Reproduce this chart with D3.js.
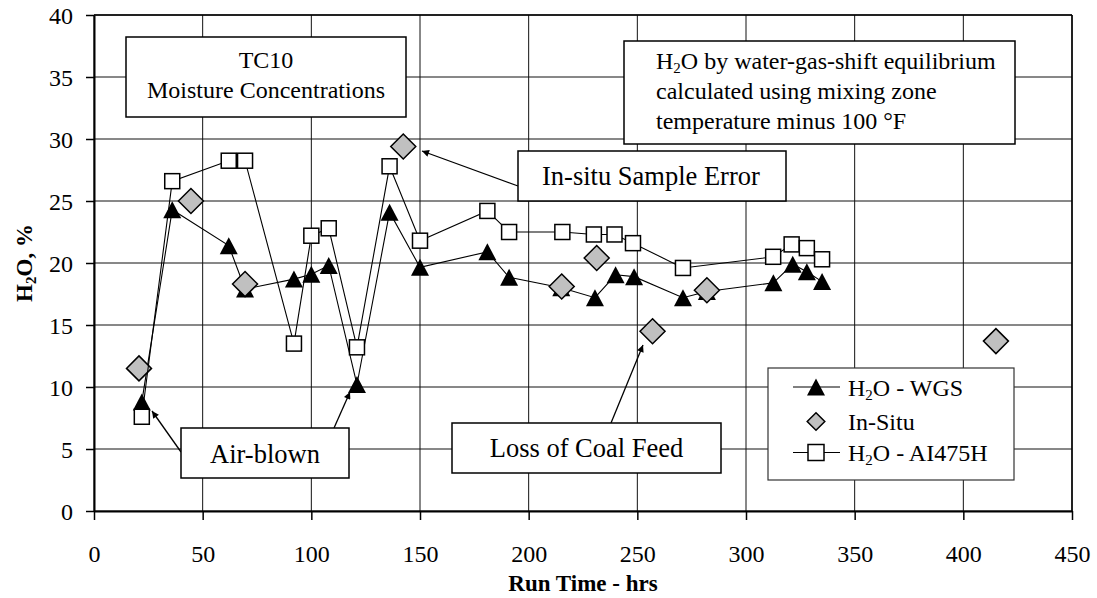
<!DOCTYPE html>
<html><head><meta charset="utf-8">
<script src="https://cdn.jsdelivr.net/npm/d3@7"></script>
<style>
body{margin:0;background:#fff}
svg{display:block;background:#fff}
text{font-family:"Liberation Serif","Times New Roman",serif;fill:#000}
</style>
</head><body>
<svg id="c" width="1097" height="598"></svg>
<script>
// ---- data ----
const xTicks = [0, 50, 100, 150, 200, 250, 300, 350, 400, 450];
const yTicks = [0, 5, 10, 15, 20, 25, 30, 35, 40];
const seriesNames = ["H2O - WGS", "In-Situ", "H2O - AI475H"];

const wgsX = [22, 36, 62, 69.5, 92, 100, 108, 121, 136, 150, 181, 191, 215, 230.5, 240, 248.5, 271, 282, 312.6, 321.5, 328, 335];
const wgsY = [8.8, 24.3, 21.4, 17.9, 18.7, 19.1, 19.8, 10.2, 24.1, 19.65, 20.9, 18.85, 18.0, 17.2, 19.05, 18.9, 17.2, 17.7, 18.4, 19.9, 19.3, 18.5];

const insituX = [20.7, 44.6, 69.5, 142.3, 215.2, 231.3, 257, 282, 415];
const insituY = [11.5, 25.0, 18.3, 29.4, 18.1, 20.4, 14.5, 17.8, 13.7];

const aiX = [22, 36, 62, 69.5, 92, 100, 108, 121, 136, 150, 181, 191, 215.5, 230, 239.5, 248, 271, 312.5, 321, 328, 335];
const aiY = [7.6, 26.6, 28.25, 28.25, 13.5, 22.2, 22.8, 13.2, 27.8, 21.8, 24.2, 22.5, 22.5, 22.3, 22.3, 21.6, 19.6, 20.5, 21.5, 21.2, 20.3];

// ---- layout ----
const FONT = '"Liberation Serif","Times New Roman",serif';
const svg = d3.select("#c");
const L = 94, R = 1072, T = 15, B = 511;
const x = d3.scaleLinear().domain([0, 450]).range([L, R]);
const y = d3.scaleLinear().domain([0, 40]).range([B, T]);

// gridlines
const g = svg.append("g");
g.selectAll(".gx").data(xTicks).enter().append("line")
  .attr("x1", d => x(d)).attr("x2", d => x(d)).attr("y1", T).attr("y2", B)
  .attr("stroke", "#111").attr("stroke-width", 1);
g.selectAll(".gy").data(yTicks).enter().append("line")
  .attr("x1", L).attr("x2", R).attr("y1", d => y(d)).attr("y2", d => y(d))
  .attr("stroke", "#111").attr("stroke-width", 1);
svg.append("line").attr("x1", L).attr("x2", R).attr("y1", T).attr("y2", T).attr("stroke", "#000").attr("stroke-width", 1.5);
svg.append("line").attr("x1", R).attr("x2", R).attr("y1", T).attr("y2", B).attr("stroke", "#000").attr("stroke-width", 1.5);

// axes
const xAxis = svg.append("g").attr("transform", `translate(0,${B})`)
  .call(d3.axisBottom(x).tickValues(xTicks).tickSize(9).tickSizeOuter(0).tickFormat(d3.format("d")));
xAxis.attr("font-family", FONT);
xAxis.select(".domain").attr("stroke", "#000").attr("stroke-width", 2);
xAxis.selectAll(".tick line").attr("stroke", "#000").attr("stroke-width", 1.5);
xAxis.selectAll(".tick text").attr("dy", null).attr("y", 51)
  .style("font-family", FONT).style("font-size", "24px").attr("fill", "#000");

const yAxis = svg.append("g").attr("transform", `translate(${L},0)`)
  .call(d3.axisLeft(y).tickValues(yTicks).tickSize(8).tickSizeOuter(0).tickFormat(d3.format("d")));
yAxis.attr("font-family", FONT);
yAxis.select(".domain").attr("stroke", "#000").attr("stroke-width", 2);
yAxis.selectAll(".tick line").attr("stroke", "#000").attr("stroke-width", 1.5);
yAxis.selectAll(".tick text").attr("x", -21).attr("dy", "0.34em")
  .style("font-family", FONT).style("font-size", "24px").attr("fill", "#000");

// axis titles
svg.append("text").attr("x", (L + R) / 2).attr("y", 591).attr("text-anchor", "middle")
  .style("font-size", "23px").style("font-weight", "bold").text("Run Time - hrs");
const yl = svg.append("text").attr("transform", `translate(32,${(T + B) / 2}) rotate(-90)`)
  .attr("text-anchor", "middle").style("font-size", "23px").style("font-weight", "bold");
yl.append("tspan").text("H");
yl.append("tspan").attr("dy", 4).style("font-size", "15px").text("2");
yl.append("tspan").attr("dy", -4).text("O, %");

// ---- series ----
const wgs = wgsX.map((v, i) => [v, wgsY[i]]);
const ins = insituX.map((v, i) => [v, insituY[i]]);
const ai = aiX.map((v, i) => [v, aiY[i]]);
const line = d3.line().x(d => x(d[0])).y(d => y(d[1]));

const triPath = (cx, cy, w, h) => `M${cx},${cy - h / 2}L${cx + w / 2},${cy + h / 2}L${cx - w / 2},${cy + h / 2}Z`;
const diaPath = (cx, cy, r) => `M${cx},${cy - r}L${cx + r},${cy}L${cx},${cy + r}L${cx - r},${cy}Z`;

// WGS
svg.append("path").attr("d", line(wgs)).attr("fill", "none").attr("stroke", "#000").attr("stroke-width", 1.1);
svg.selectAll(".tri").data(wgs).enter().append("path")
  .attr("d", d => triPath(x(d[0]), y(d[1]), 18, 17)).attr("fill", "#000");
// In-Situ
svg.selectAll(".dia").data(ins).enter().append("path")
  .attr("d", d => diaPath(x(d[0]), y(d[1]), 12.5)).attr("fill", "#C0C0C0").attr("stroke", "#000").attr("stroke-width", 1.5);
// AI475H
svg.append("path").attr("d", line(ai)).attr("fill", "none").attr("stroke", "#000").attr("stroke-width", 1.1);
svg.selectAll(".sq").data(ai).enter().append("rect")
  .attr("x", d => x(d[0]) - 7.5).attr("y", d => y(d[1]) - 7.5).attr("width", 15).attr("height", 15)
  .attr("fill", "#fff").attr("stroke", "#000").attr("stroke-width", 1.5);

// ---- annotations ----
const defs = svg.append("defs");
defs.append("marker").attr("id", "ah").attr("viewBox", "0 0 10 10").attr("refX", 10).attr("refY", 5)
  .attr("markerWidth", 9).attr("markerHeight", 7).attr("markerUnits", "userSpaceOnUse").attr("orient", "auto")
  .append("path").attr("d", "M0,0L10,5L0,10Z").attr("fill", "#000");

function box(x0, y0, w, h) {
  svg.append("rect").attr("x", x0).attr("y", y0).attr("width", w).attr("height", h)
    .attr("fill", "#fff").attr("stroke", "#000").attr("stroke-width", 1.5);
}
function arrow(x1, y1, x2, y2) {
  svg.append("line").attr("x1", x1).attr("y1", y1).attr("x2", x2).attr("y2", y2)
    .attr("stroke", "#000").attr("stroke-width", 1.3).attr("marker-end", "url(#ah)");
}

arrow(518, 186, 422, 151);
arrow(181, 452, 152, 411);
arrow(334, 428, 350, 392);
arrow(611, 423, 643, 345);

// TC10 box
box(126, 37, 280, 80);
svg.append("text").attr("x", 266).attr("y", 68).attr("text-anchor", "middle").style("font-size", "24px").text("TC10");
svg.append("text").attr("x", 266).attr("y", 98).attr("text-anchor", "middle").style("font-size", "24px").text("Moisture Concentrations");

// WGS note box
box(624, 41, 391, 103);
const t1 = svg.append("text").attr("x", 656).attr("y", 69).style("font-size", "24px");
t1.append("tspan").text("H");
t1.append("tspan").attr("dy", 4).style("font-size", "15px").text("2");
t1.append("tspan").attr("dy", -4).text("O by water-gas-shift equilibrium");
svg.append("text").attr("x", 656).attr("y", 99).style("font-size", "24px").text("calculated using mixing zone");
svg.append("text").attr("x", 656).attr("y", 129).style("font-size", "24px").text("temperature minus 100 \u00B0F");

// In-situ sample error
box(518, 151, 268, 50);
svg.append("text").attr("x", 542).attr("y", 185).style("font-size", "26.5px").text("In-situ Sample Error");

// Air-blown
box(181, 428, 168, 50);
svg.append("text").attr("x", 265).attr("y", 463).attr("text-anchor", "middle").style("font-size", "26.5px").text("Air-blown");

// Loss of coal feed
box(452, 423, 269, 50);
svg.append("text").attr("x", 586.5).attr("y", 457).attr("text-anchor", "middle").style("font-size", "26.5px").text("Loss of Coal Feed");

// ---- legend ----
svg.append("rect").attr("x", 768).attr("y", 368).attr("width", 246).attr("height", 112)
  .attr("fill", "#fff").attr("stroke", "#333").attr("stroke-width", 1.2);
const ly = [387, 421.5, 452.5];
const lx = 816;
svg.append("line").attr("x1", 793).attr("x2", 840).attr("y1", ly[0]).attr("y2", ly[0]).attr("stroke", "#000");
svg.append("path").attr("d", triPath(lx, ly[0], 18, 17)).attr("fill", "#000");
svg.append("path").attr("d", diaPath(lx, ly[1], 8.8)).attr("fill", "#C0C0C0").attr("stroke", "#000").attr("stroke-width", 1.5);
svg.append("line").attr("x1", 793).attr("x2", 840).attr("y1", ly[2]).attr("y2", ly[2]).attr("stroke", "#000");
svg.append("rect").attr("x", lx - 8).attr("y", ly[2] - 8).attr("width", 16).attr("height", 16)
  .attr("fill", "#fff").attr("stroke", "#000").attr("stroke-width", 1.5);

function legText(yy, parts) {
  const t = svg.append("text").attr("x", 848).attr("y", yy + 8.5).style("font-size", "24px");
  parts.forEach(p => {
    const s = t.append("tspan").text(p.t);
    if (p.sub) s.attr("dy", 4).style("font-size", "15px");
    if (p.after) s.attr("dy", -4);
  });
}
legText(ly[0], [{t: "H"}, {t: "2", sub: true}, {t: "O - WGS", after: true}]);
legText(ly[1], [{t: seriesNames[1]}]);
legText(ly[2], [{t: "H"}, {t: "2", sub: true}, {t: "O - AI475H", after: true}]);
</script>
</body></html>
